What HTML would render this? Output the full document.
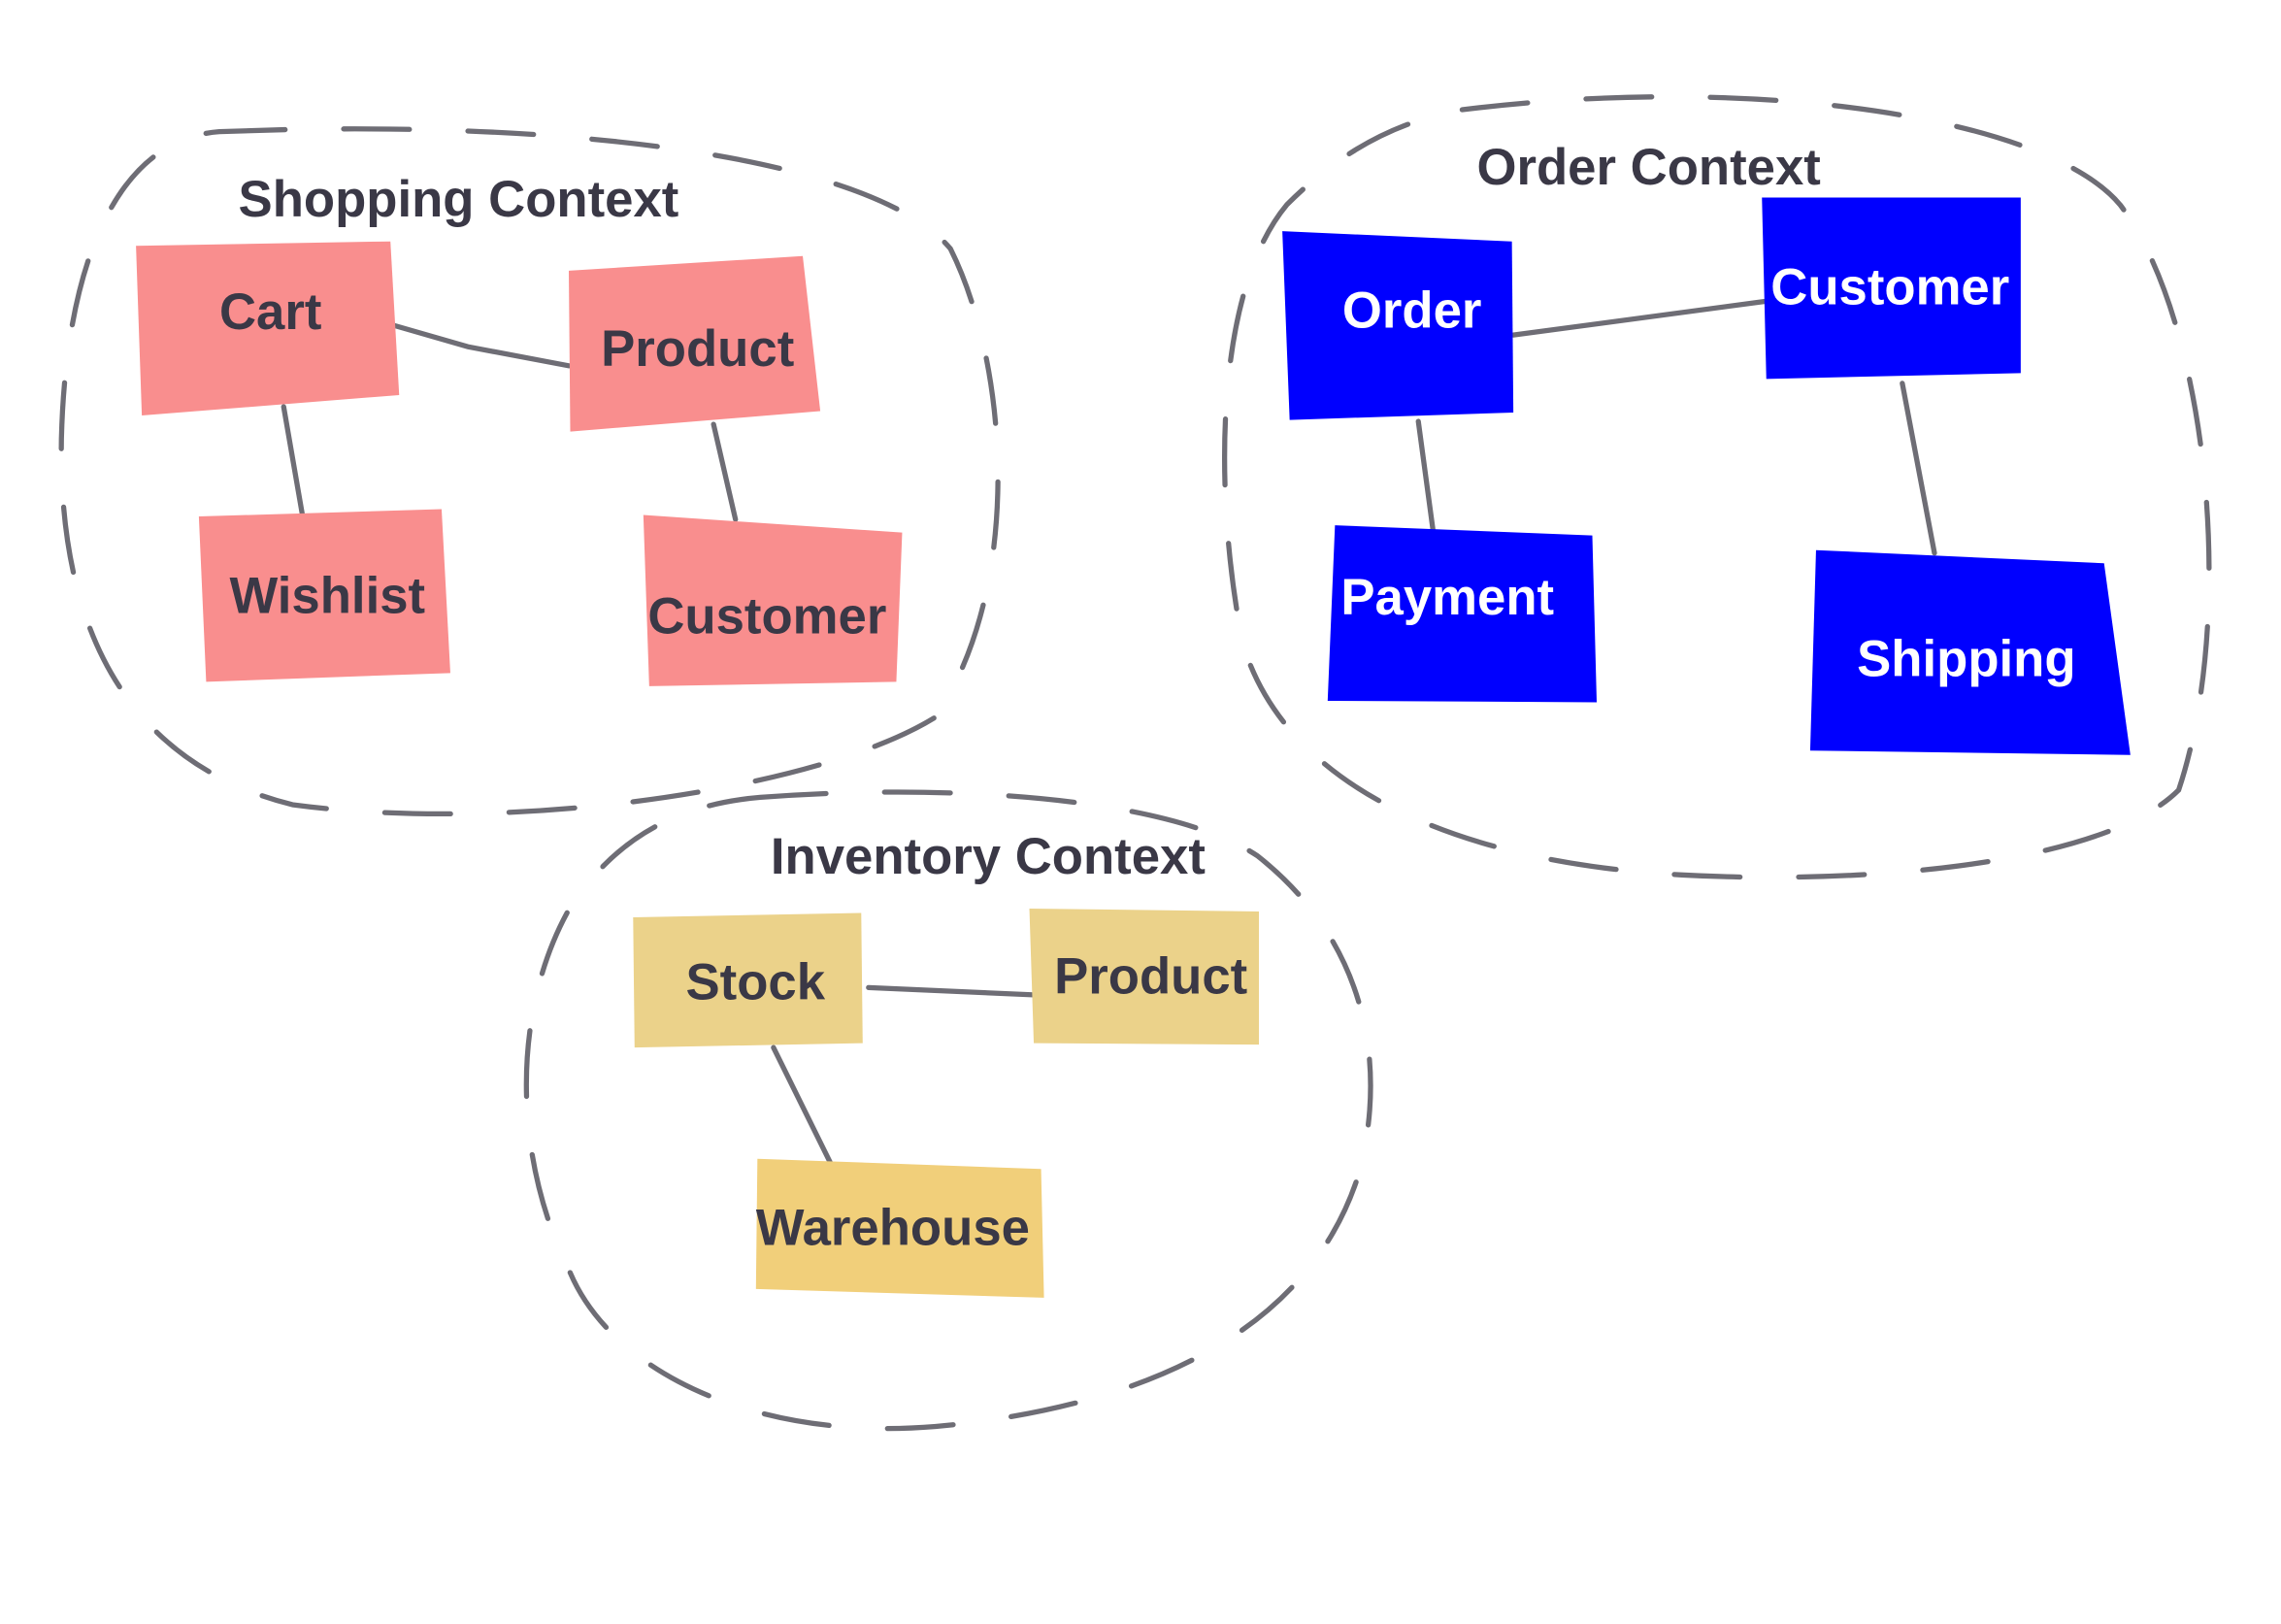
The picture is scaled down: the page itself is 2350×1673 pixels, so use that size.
<!DOCTYPE html>
<html><head><meta charset="utf-8"><style>
html,body{margin:0;padding:0;background:#fff;}
svg{display:block;}
text{font-family:"Liberation Sans",sans-serif;font-weight:bold;}
</style></head><body>
<svg width="2350" height="1673" viewBox="0 0 1560 1110" preserveAspectRatio="none" xmlns="http://www.w3.org/2000/svg">
<g fill="none" stroke="#6e6d75" stroke-width="3.5" stroke-linecap="round" stroke-dasharray="45 40">
<path d="M150,90 C400,80 600,110 650,170 C690,250 700,400 640,490 C560,540 350,570 200,550 C80,520 40,420 42,300 C45,180 80,95 150,90 Z"/>
<path d="M1000,75 C1200,50 1400,80 1450,140 C1510,220 1530,420 1490,540 C1440,590 1280,605 1150,598 C1000,590 880,540 850,440 C830,340 830,200 880,140 C920,100 960,82 1000,75 Z"/>
<path d="M520,545 C650,535 800,545 860,585 C930,640 950,720 930,800 C900,900 800,960 640,975 C520,985 420,940 390,870 C350,790 350,690 390,620 C420,575 460,550 520,545 Z"/>
</g>
<g fill="none" stroke="#6e6d75" stroke-width="3.5" stroke-linecap="round">
<path d="M268,222 L320,237 L389,250"/>
<path d="M194,278 L207,353"/>
<path d="M488,290 L503,355"/>
<path d="M1035,229 L1207,206"/>
<path d="M970,288 L980,362"/>
<path d="M1301,262 L1323,378"/>
<path d="M594,675 L707,680"/>
<path d="M529,716 L568,795"/>
</g>
<g fill="#f98e8e">
<polygon points="93,168 267,165 273,270 97,284"/>
<polygon points="389,185 549,175 561,281 390,295"/>
<polygon points="136,353 302,348 308,460 141,466"/>
<polygon points="440,352 617,364 613,466 444,469"/>
</g>
<g fill="#0000ff">
<polygon points="877,158 1034,165 1035,282 882,287"/>
<polygon points="1205,135 1382,135 1382,255 1208,259"/>
<polygon points="913,359 1089,366 1092,480 908,479"/>
<polygon points="1242,376 1439,385 1457,516 1238,513"/>
</g>
<polygon fill="#ebd28a" points="433,627 589,624 590,713 434,716"/>
<polygon fill="#ebd28a" points="704,621 861,623 861,714 707,713"/>
<polygon fill="#f1cf7a" points="518,792 712,799 714,887 517,881"/>
<g fill="#3a3846" font-size="35">
<text x="163" y="148">Shopping Context</text>
<text x="1010" y="126">Order Context</text>
<text x="527" y="597">Inventory Context</text>
<text x="150" y="225">Cart</text>
<text x="411" y="250">Product</text>
<text x="157" y="419">Wishlist</text>
<text x="443" y="433">Customer</text>
<text x="469" y="683">Stock</text>
<text x="721" y="679">Product</text>
<text x="517" y="851">Warehouse</text>
</g>
<g fill="#ffffff" font-size="35">
<text x="918" y="224">Order</text>
<text x="1211" y="208">Customer</text>
<text x="917" y="420">Payment</text>
<text x="1270" y="462">Shipping</text>
</g>
</svg>
</body></html>
